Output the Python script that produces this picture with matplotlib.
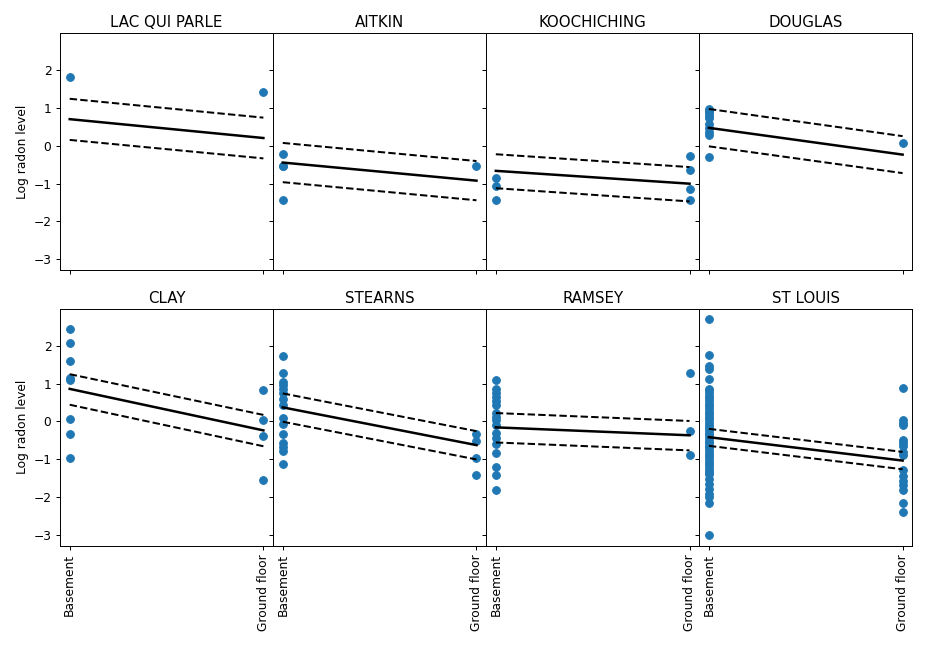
import matplotlib
matplotlib.use("Agg")
import matplotlib.pyplot as plt

counties = ["LAC QUI PARLE", "AITKIN", "KOOCHICHING", "DOUGLAS",
            "CLAY", "STEARNS", "RAMSEY", "ST LOUIS"]
floor_labels = ["Basement", "Ground floor"]

basement = {
    "LAC QUI PARLE": [1.83],
    "AITKIN": [-0.21, -0.54, -0.54, -1.44],
    "KOOCHICHING": [-0.84, -1.06, -1.44],
    "DOUGLAS": [0.99, 0.93, 0.88, 0.80, 0.75, 0.58, 0.48, 0.38, 0.30, -0.28],
    "CLAY": [2.46, 2.08, 1.59, 1.15, 1.10, 0.05, -0.33, -0.97],
    "STEARNS": [1.73, 1.29, 1.04, 0.96, 0.87, 0.75, 0.60, 0.44, 0.10, -0.06,
                -0.34, -0.58, -0.68, -0.79, -1.13],
    "RAMSEY": [1.10, 0.86, 0.76, 0.65, 0.54, 0.43, 0.22, 0.12, 0.04, -0.10,
               -0.31, -0.43, -0.59, -0.83, -1.22, -1.42, -1.81],
    "ST LOUIS": [2.70, 1.77, 1.47, 1.40, 1.11, 0.87, 0.82, 0.75, 0.68, 0.61,
                 0.54, 0.47, 0.40, 0.33, 0.26, 0.19, 0.12, 0.05, -0.02, -0.09,
                 -0.16, -0.23, -0.30, -0.37, -0.44, -0.51, -0.58, -0.65, -0.72,
                 -0.79, -0.86, -0.93, -1.00, -1.07, -1.14, -1.21, -1.28, -1.35,
                 -1.39, -1.52, -1.65, -1.79, -1.92, -2.00, -2.17, -3.01],
}
ground = {
    "LAC QUI PARLE": [1.42],
    "AITKIN": [-0.54],
    "KOOCHICHING": [-0.26, -0.65, -1.15, -1.44],
    "DOUGLAS": [0.07],
    "CLAY": [0.82, 0.03, -0.38, -1.55],
    "STEARNS": [-0.34, -0.53, -0.97, -1.43],
    "RAMSEY": [1.29, -0.25, -0.90],
    "ST LOUIS": [0.88, 0.04, -0.04, -0.10, -0.50, -0.58, -0.65, -0.80, -0.88,
                 -1.30, -1.45, -1.58, -1.70, -1.82, -2.16, -2.39],
}

# fitted mean line (basement, ground floor) and interval bounds
mean_line = {
    "LAC QUI PARLE": [0.71, 0.21], "AITKIN": [-0.44, -0.92],
    "KOOCHICHING": [-0.66, -1.00], "DOUGLAS": [0.48, -0.23],
    "CLAY": [0.86, -0.24], "STEARNS": [0.37, -0.63],
    "RAMSEY": [-0.16, -0.37], "ST LOUIS": [-0.42, -1.04],
}
upper_line = {
    "LAC QUI PARLE": [1.25, 0.75], "AITKIN": [0.08, -0.40],
    "KOOCHICHING": [-0.22, -0.56], "DOUGLAS": [0.98, 0.26],
    "CLAY": [1.25, 0.17], "STEARNS": [0.74, -0.26],
    "RAMSEY": [0.22, 0.01], "ST LOUIS": [-0.20, -0.81],
}
lower_line = {
    "LAC QUI PARLE": [0.16, -0.33], "AITKIN": [-0.96, -1.44],
    "KOOCHICHING": [-1.12, -1.47], "DOUGLAS": [-0.01, -0.72],
    "CLAY": [0.44, -0.66], "STEARNS": [-0.01, -1.01],
    "RAMSEY": [-0.56, -0.77], "ST LOUIS": [-0.65, -1.27],
}

k = 1.22
plt.rcParams.update({
    "font.size": 10 * k,
    "axes.linewidth": 0.8 * k,
    "xtick.major.size": 3.5 * k, "ytick.major.size": 3.5 * k,
    "xtick.major.width": 0.8 * k, "ytick.major.width": 0.8 * k,
    "xtick.major.pad": 3.5 * k, "ytick.major.pad": 3.5 * k,
})

fig, axes = plt.subplots(2, 4, sharex=True, sharey=True,
                         figsize=(926 / 72, 649 / 72), dpi=72)
fig.subplots_adjust(left=0.0648, right=0.9852, top=0.9487, bottom=0.1592,
                    wspace=0.0, hspace=0.162)

for ax, c in zip(axes.flat, counties):
    ax.scatter([0] * len(basement[c]), basement[c], s=60, color="#1f77b4", zorder=2)
    ax.scatter([1] * len(ground[c]), ground[c], s=60, color="#1f77b4", zorder=2)
    ax.plot([0, 1], mean_line[c], color="black", lw=2.5, zorder=3)
    ax.plot([0, 1], upper_line[c], color="black", lw=2, ls="--", zorder=3)
    ax.plot([0, 1], lower_line[c], color="black", lw=2, ls="--", zorder=3)
    ax.set_title(c, fontsize=15)

axes[0, 0].set_xticks([0, 1])
for ax in axes[1]:
    ax.set_xticklabels(floor_labels, rotation=90)
for ax in axes[:, 0]:
    ax.set_ylabel("Log radon level")
axes[0, 0].set_yticks([-3, -2, -1, 0, 1, 2])

fig.savefig("out.png", dpi=72)
